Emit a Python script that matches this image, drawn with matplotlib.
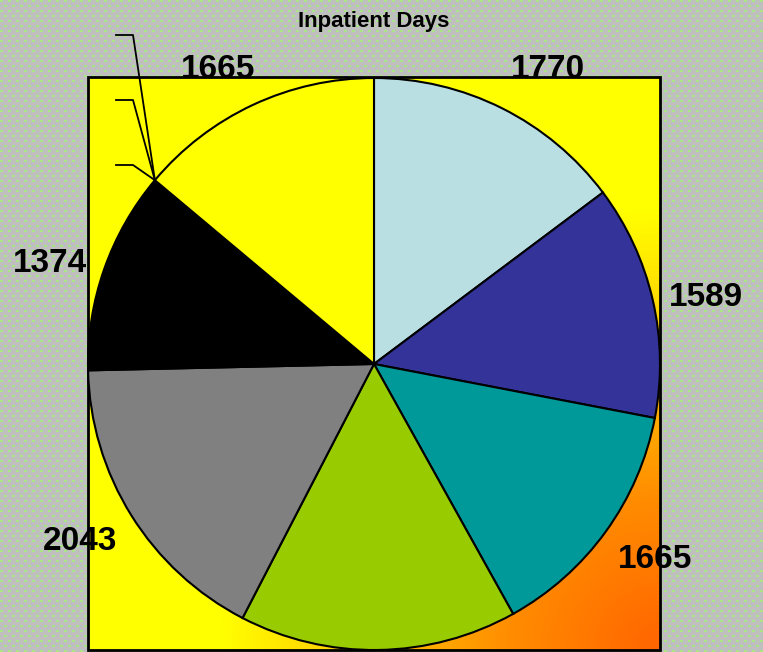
import numpy as np
import matplotlib.pyplot as plt
from matplotlib.patches import Rectangle

plt.rcParams['font.family'] = ['Liberation Sans', 'DejaVu Sans']

W, H = 763, 652

# data (clockwise from 12 o'clock); the lime slice's label falls off the chart
values = [1770, 1589, 1665, 1880, 2043, 1374, 1665]
labels = ['1770', '1589', '1665', '', '2043', '1374', '1665']
colors = ['#B9DFE3', '#333399', '#009999', '#99CC00', '#808080', '#000000', '#FFFF00']
title = 'Inpatient Days'

# layout in pixel units (y measured downward from top for label spots)
cx, cy, r = 374, H - 364, 286
plot_x0, plot_x1 = 88, 660
plot_y0, plot_y1 = 2, H - 77
label_xy = [(548, 70), (706, 297), (655, 560), None, (80, 542), (50, 264), (218, 70)]

fig = plt.figure(figsize=(W / 100, H / 100), dpi=100)

# patterned grey/green background
bg = np.empty((H, W, 3))
bg[:] = (0.75, 0.75, 0.75)
yy, xx = np.mgrid[0:H, 0:W]
shift = ((yy // 5) % 2) * 4
dash = ((yy % 5) < 2) & (((xx + shift) % 8) < 3)
bg[dash] = (0.66, 0.90, 0.52)
bg_ax = fig.add_axes([0, 0, 1, 1], zorder=0)
bg_ax.imshow(bg, aspect='auto', interpolation='nearest')
bg_ax.axis('off')

ax = fig.add_axes([0, 0, 1, 1], zorder=1)
ax.patch.set_alpha(0)

# yellow -> orange gradient in the plot area (from bottom-right corner)
gx = np.arange(plot_x0, plot_x1)
gy = np.arange(plot_y0, plot_y1)
GX, GY = np.meshgrid(gx, gy)
d = np.hypot(GX - plot_x1, GY - plot_y0)
g = np.interp(d, [0, 150, 300, 440], [100, 140, 200, 255]) / 255
grad = np.dstack([np.ones_like(g), g, np.zeros_like(g)])
ax.imshow(grad, extent=[plot_x0, plot_x1, plot_y0, plot_y1], origin='lower',
          zorder=1, interpolation='bilinear')
ax.add_patch(Rectangle((plot_x0, plot_y0), plot_x1 - plot_x0, plot_y1 - plot_y0,
                       fill=False, ec='black', lw=2, zorder=2))

wedges, texts = ax.pie(values, labels=labels, colors=colors, startangle=90,
                       counterclock=False, center=(cx, cy), radius=r,
                       labeldistance=1.19, frame=True,
                       wedgeprops=dict(edgecolor='black', linewidth=1.5),
                       textprops=dict(fontsize=24, fontweight='bold', color='black'))
for w in wedges:
    w.set_zorder(3)
for t, pos in zip(texts, label_xy):
    t.set_ha('center')
    t.set_va('center')
    t.set_zorder(5)
    if pos is not None:
        t.set_position((pos[0], H - pos[1]))

# leader lines for the empty labels, meeting at the black/yellow boundary
total = sum(values)
ang = np.deg2rad(90 - 360 * sum(values[:-1]) / total)
px, py = cx + r * np.cos(ang), cy + r * np.sin(ang)
for ly in [35, 100, 165]:
    ax.plot([116, 133, px], [H - ly, H - ly, py], color='black', lw=1.3, zorder=4)

ax.text(cx, H - 21, title, fontsize=16, fontweight='bold', ha='center', va='center')

ax.set_xlim(0, W)
ax.set_ylim(0, H)
ax.set_aspect('auto')
ax.axis('off')

fig.savefig('out.png', dpi=100)
